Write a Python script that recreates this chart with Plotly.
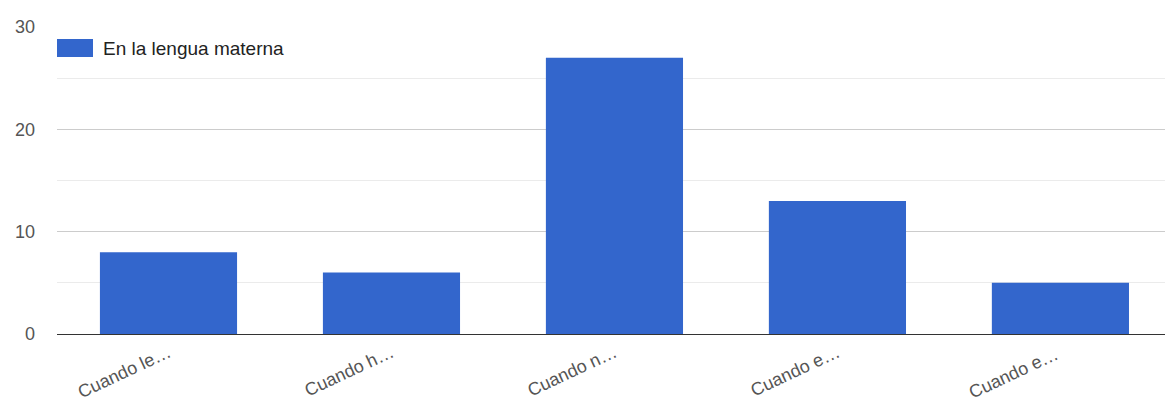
import plotly.graph_objects as go

# Survey answers: how often each situation is handled in the mother tongue
categories = ["Cuando le…", "Cuando h…", "Cuando n…", "Cuando e…", "Cuando e… "]
values = [8, 6, 27, 13, 5]
series_name = "En la lengua materna"
y_ticks = [0, 10, 20, 30]

BAR_COLOR = "#3366cc"
FONT = "Arial, Liberation Sans, sans-serif"

fig = go.Figure(
    go.Bar(
        x=categories,
        y=values,
        name=series_name,
        marker=dict(color=BAR_COLOR, line=dict(width=0)),
        showlegend=False,
    )
)

fig.update_layout(
    width=1165,
    height=406,
    margin=dict(l=57, r=0, t=27, b=72, autoexpand=False),
    paper_bgcolor="white",
    plot_bgcolor="white",
    bargap=0.385,
    font=dict(family=FONT, size=18, color="#444444"),
)

fig.update_xaxes(
    type="category",
    range=[-0.5, 4.469],
    tickangle=-25,
    tickfont=dict(size=18, color="#555555"),
    showgrid=False,
    showline=False,
    ticks="",
    ticklabelstandoff=4,
    automargin=False,
)

fig.update_yaxes(
    range=[0, 30],
    tickvals=y_ticks,
    tickfont=dict(size=18, color="#555555"),
    gridcolor="#cccccc",
    gridwidth=1,
    minor=dict(dtick=5, showgrid=True, gridcolor="#ebebeb", gridwidth=1),
    zeroline=True,
    zerolinecolor="#333333",
    zerolinewidth=1,
    showline=False,
    ticks="",
    ticklabelstandoff=21,
    automargin=False,
)

# Legend swatch and label in the top-left corner of the plot
fig.add_shape(
    type="rect", xref="paper", yref="paper",
    x0=0, x1=36 / 1108, y0=1 - 12 / 307, y1=1 - 30 / 307,
    fillcolor=BAR_COLOR, line=dict(width=0),
)
fig.add_annotation(
    xref="paper", yref="paper",
    x=44 / 1108, y=1 - 21 / 307,
    text=series_name, showarrow=False,
    xanchor="left", yanchor="middle",
    font=dict(family=FONT, size=19, color="#222222"),
)

fig.write_html("out.html")
